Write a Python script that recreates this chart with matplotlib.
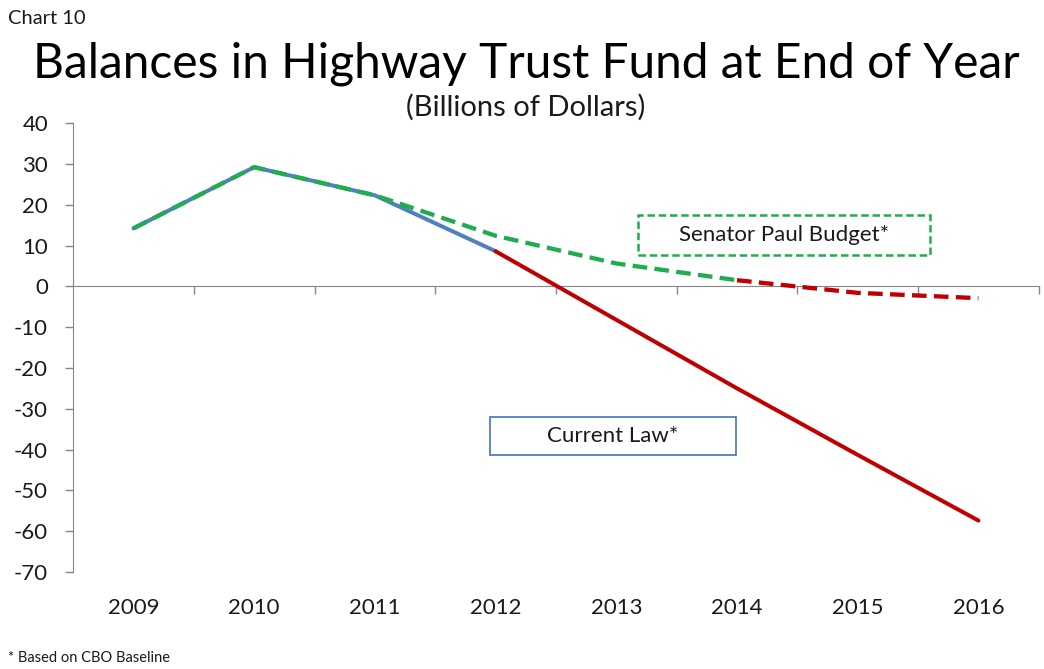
import matplotlib.pyplot as plt
from matplotlib.patches import Rectangle
from matplotlib.transforms import blended_transform_factory

plt.rcParams["font.family"] = ["Lato", "DejaVu Sans"]
plt.rcParams["axes.unicode_minus"] = False

YEARS = ["2009", "2010", "2011", "2012", "2013", "2014", "2015", "2016"]
CURRENT_LAW = [14.2, 29.2, 22.3, 8.6, -8.2, -25.0, -41.3, -57.4]
PAUL_BUDGET = [14.2, 29.2, 22.3, 12.4, 5.6, 1.5, -1.6, -2.9]
Y_TICKS = [40, 30, 20, 10, 0, -10, -20, -30, -40, -50, -60, -70]

BLUE = "#4f81bd"
RED = "#c00000"
GREEN = "#1fad4f"
AXIS_GRAY = "#868686"
TEXT = "#1a1a1a"

fig = plt.figure(figsize=(10.44, 6.69), dpi=100)
ax = fig.add_axes([0.07, 0.145, 0.925, 0.671])

x = list(range(len(YEARS)))

# current law: blue while history, red once the projection starts
ax.plot(x[:4], CURRENT_LAW[:4], color=BLUE, lw=2.9, solid_capstyle="round", zorder=3)
ax.plot(x[3:], CURRENT_LAW[3:], color=RED, lw=2.9, solid_capstyle="round", zorder=3)

# Paul budget: dashed, green until it goes negative, then red
ax.plot(x[:6], PAUL_BUDGET[:6], color=GREEN, lw=3.1, ls=(0, (3.4, 1.7)), zorder=4)
ax.plot(x[5:], PAUL_BUDGET[5:], color=RED, lw=3.1, ls=(0, (3.4, 1.7)), zorder=4)

ax.set_xlim(-0.5, len(YEARS) - 0.5)
ax.set_ylim(min(Y_TICKS), max(Y_TICKS))
ax.set_yticks(Y_TICKS)
ax.tick_params(axis="y", direction="out", length=6, width=1, color=AXIS_GRAY,
               labelsize=16, pad=12, labelcolor=TEXT)

# category axis sits on the zero line, ticks between categories
ax.spines["bottom"].set_position(("data", 0))
ax.spines["bottom"].set_color(AXIS_GRAY)
ax.spines["left"].set_color(AXIS_GRAY)
ax.spines["top"].set_visible(False)
ax.spines["right"].set_visible(False)
ax.set_xticks([i + 0.5 for i in x])
ax.set_xticklabels([])
ax.tick_params(axis="x", direction="out", length=6, width=1, color=AXIS_GRAY)

trans = blended_transform_factory(ax.transData, ax.transAxes)
for i, year in zip(x, YEARS):
    ax.text(i, -0.08, year, transform=trans, ha="center", va="center",
            fontsize=16, color=TEXT)

# label boxes
ax.add_patch(Rectangle((4.18, 7.6), 2.42, 9.8, fc="white", ec=GREEN, lw=1.8,
                       ls=(0, (3, 1.5)), zorder=5))
ax.text(5.39, 12.5, "Senator Paul Budget*", ha="center", va="center", fontsize=16,
        color=TEXT, zorder=6)
ax.add_patch(Rectangle((2.95, -41.4), 2.04, 9.3, fc="white", ec=BLUE, lw=1.3, zorder=5))
ax.text(3.97, -36.75, "Current Law*", ha="center", va="center", fontsize=16,
        color=TEXT, zorder=6)

fig.text(0.008, 0.973, "Chart 10", fontsize=14.5, ha="left", va="center", color=TEXT)
fig.text(0.504, 0.905, "Balances in Highway Trust Fund at End of Year", fontsize=34.5,
         ha="center", va="center", color="black")
fig.text(0.504, 0.84, "(Billions of Dollars)", fontsize=21, ha="center", va="center",
         color=TEXT)
fig.text(0.008, 0.016, "* Based on CBO Baseline", fontsize=10.5, ha="left", va="center",
         color=TEXT)

fig.savefig("out.png", dpi=100)
